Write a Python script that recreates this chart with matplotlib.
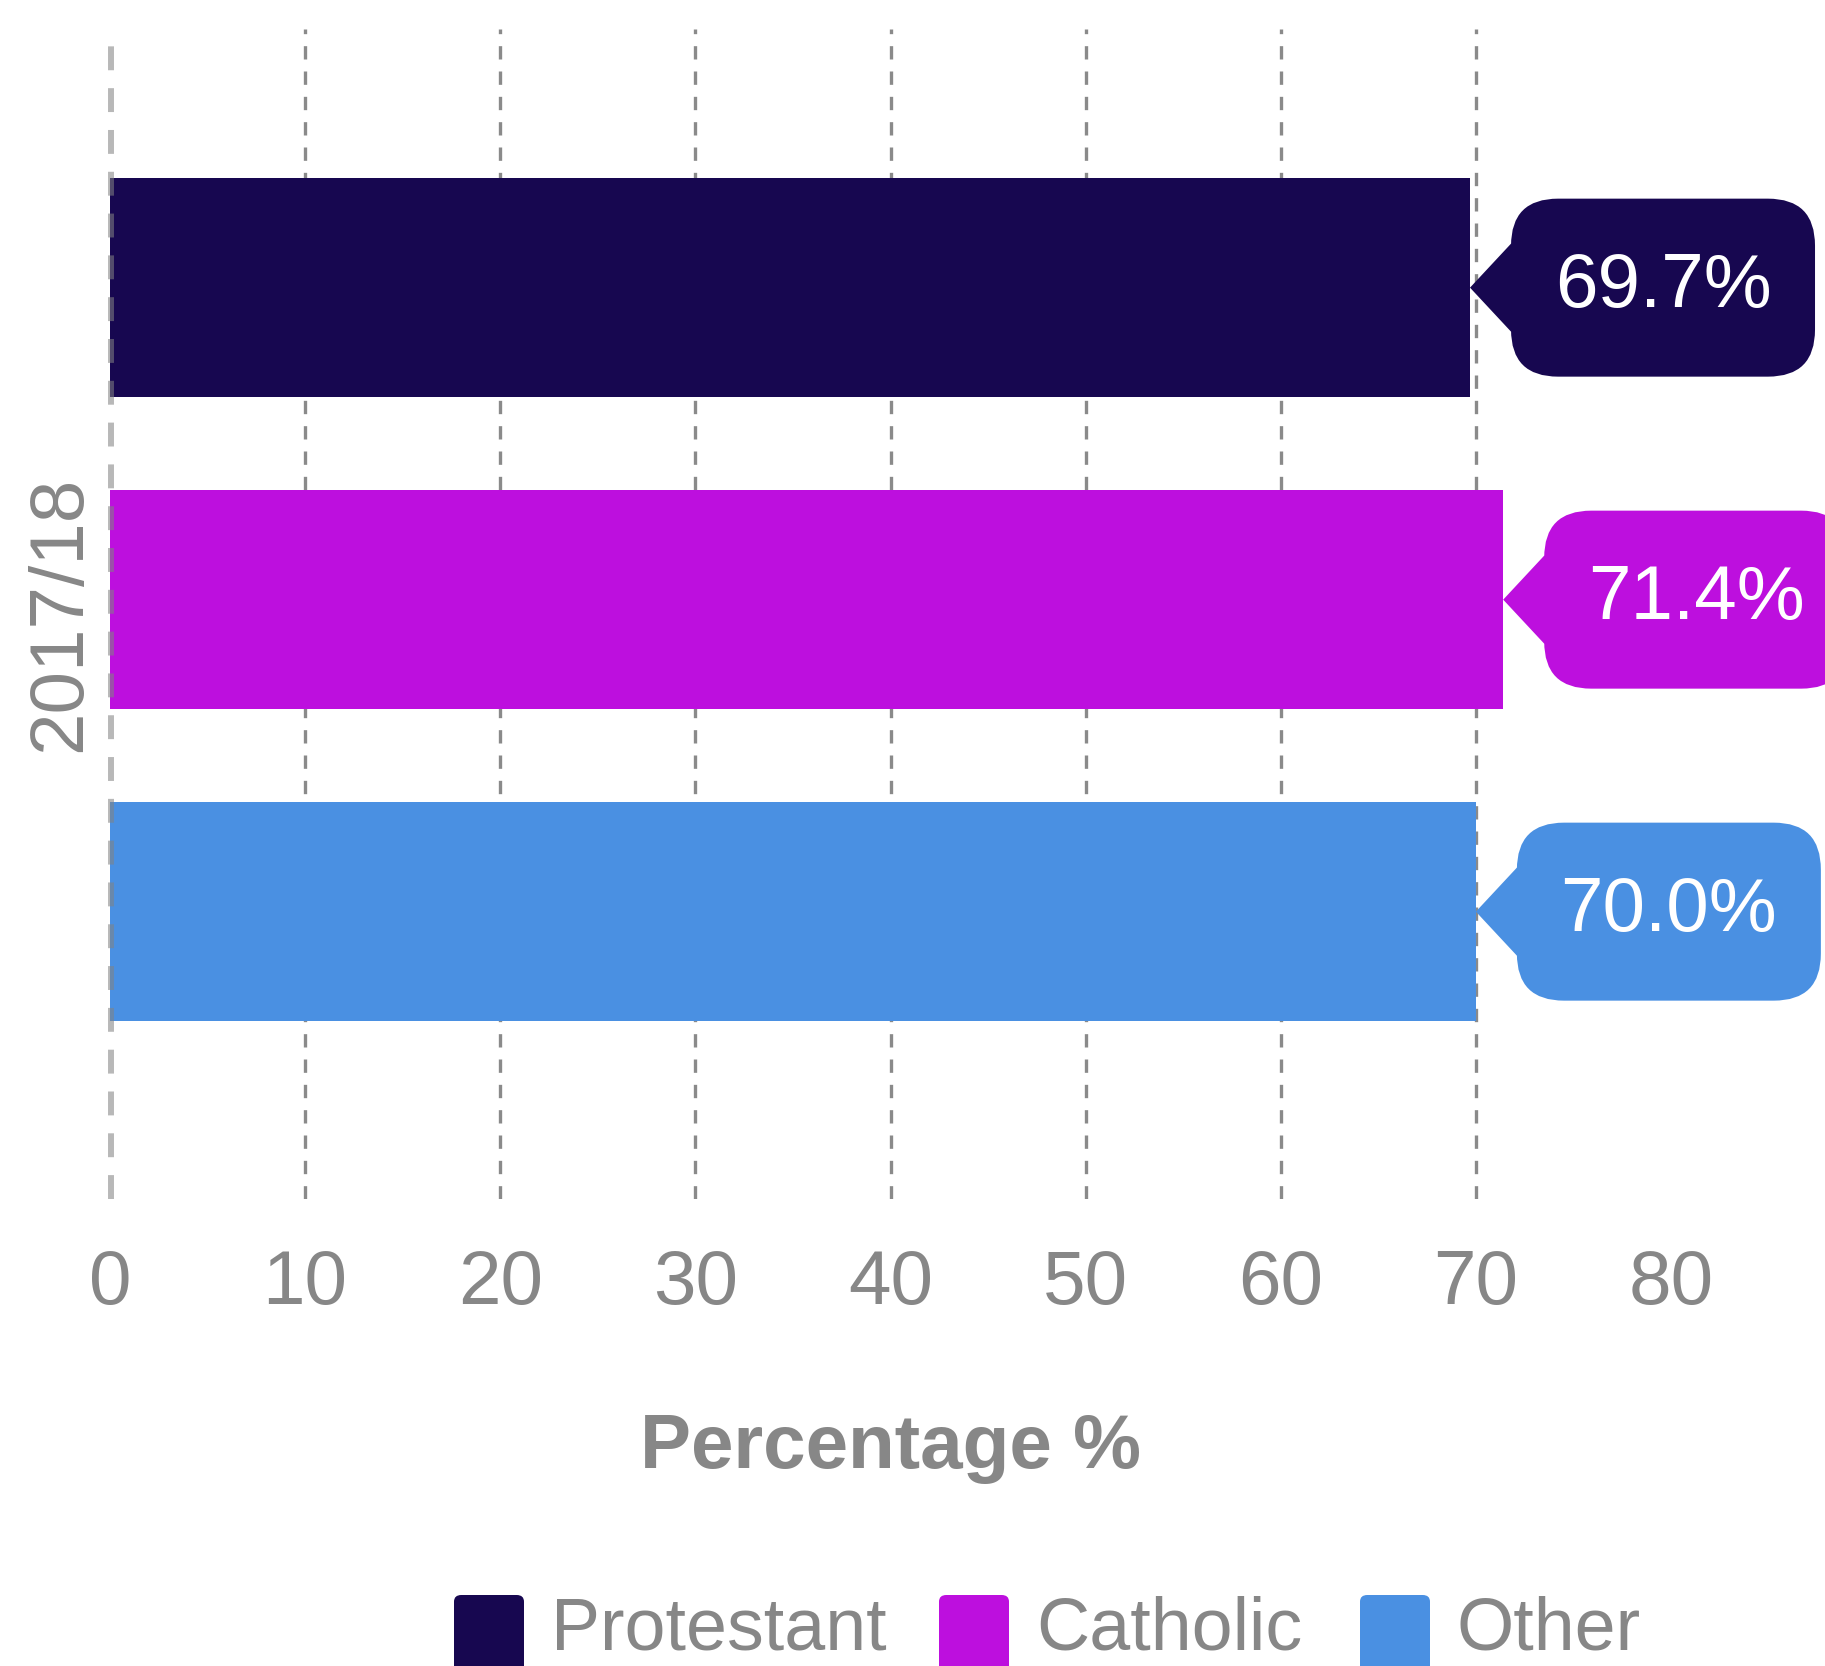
import matplotlib
matplotlib.use('Agg')
import matplotlib.pyplot as plt
import matplotlib.transforms as mtransforms
from matplotlib.patches import FancyBboxPatch, Polygon

plt.rcParams['font.family'] = ['Liberation Sans', 'DejaVu Sans']

# data
groups = ['Protestant', 'Catholic', 'Other']
values = [69.7, 71.4, 70.0]
colors = ['#170750', '#BD0FDE', '#4A90E2']
year_label = '2017/18'
xticks = [0, 10, 20, 30, 40, 50, 60, 70, 80]

W, H = 1825, 1666
GREY = '#878787'
FS = 55

fig = plt.figure(figsize=(W / 100, H / 100), dpi=100)
ax = fig.add_axes([110 / W, 1 - 1199 / H, 1561 / W, 1170 / H])
ax.set_xlim(0, 80)
ax.set_ylim(2.921, -0.829)

ypos = list(range(len(groups)))
ax.barh(ypos, values, height=0.70, color=colors, zorder=2)

# dashed grid lines (no line at the last tick)
for t in xticks[1:-1]:
    ax.axvline(t, color='#8a8a8a', lw=2.4, dashes=(4, 3.6), zorder=1)
# zero line, drawn over the bars
ax.axvline(0.05, ymin=0, ymax=(1199 - 41) / 1170, color='#828282', alpha=0.57,
           lw=4.3, dashes=(4, 3), zorder=3, clip_on=False)

for s in ax.spines.values():
    s.set_visible(False)
ax.set_xticks(xticks)
ax.set_yticks([])
ax.tick_params(axis='x', length=0, labelsize=FS, labelcolor=GREY, pad=36)
ax.set_ylabel(year_label, fontsize=FS, color=GREY, labelpad=10)
ax.text(0.5, -(1449 - 1199) / 1170, 'Percentage %', transform=ax.transAxes,
        ha='center', va='center', fontsize=FS, fontweight='bold', color=GREY)

# callout labels, sized in inches relative to the bar end
for y, v, c in zip(ypos, values, colors):
    tr = fig.dpi_scale_trans + mtransforms.ScaledTranslation(v, y, ax.transData)
    box = FancyBboxPatch((0.41, -0.89), 3.04, 1.78,
                         boxstyle='round,pad=0,rounding_size=0.47',
                         fc=c, ec='none', transform=tr, clip_on=False, zorder=4)
    tip = Polygon([(0, 0), (0.41, 0.44), (0.6, 0.44), (0.6, -0.44), (0.41, -0.44)],
                  closed=True, fc=c, ec='none', transform=tr, clip_on=False,
                  zorder=4)
    ax.add_patch(box)
    ax.add_patch(tip)
    ax.text(1.93, 0, f'{v:.1f}%', transform=tr, ha='center', va='center',
            fontsize=FS, color='white', zorder=5, clip_on=False)

# legend
leg_x = [454, 939, 1360]
for lx, g, c in zip(leg_x, groups, colors):
    sq = FancyBboxPatch((lx / W, 1 - 1690 / H), 70 / W, 95 / H,
                        boxstyle='round,pad=0,rounding_size=0.004',
                        fc=c, ec='none', transform=fig.transFigure)
    fig.patches.append(sq)
    fig.text((lx + 97) / W, 1 - 1630 / H, g, ha='left', va='center',
             fontsize=53, color=GREY)

fig.savefig('out.png', dpi=100)
